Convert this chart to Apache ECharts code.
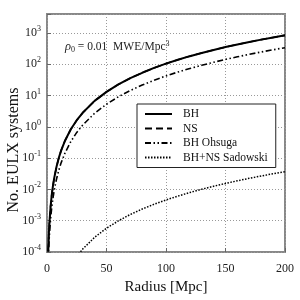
<!DOCTYPE html>
<html><head><meta charset="utf-8">
<script src="https://cdn.jsdelivr.net/npm/echarts@6/dist/echarts.min.js"></script>
<style>html,body{margin:0;padding:0;background:#fff}#c{width:300px;height:300px}</style>
</head><body><div id="c"></div>
<script>
const seriesNames = ['BH', 'NS', 'BH Ohsuga', 'BH+NS Sadowski'];
const radiusBH = [1, 1.5, 2, 3, 4, 5, 6, 8, 10, 12, 15, 20, 25, 30, 40, 50, 60, 70, 80, 90, 100, 110, 120, 130, 140, 150, 160, 170, 180, 190, 200];
const valuesBH = [1.04e-4, 3.5e-4, 8.3e-4, 2.8e-3, 6.7e-3, 0.013, 0.0225, 0.053, 0.104, 0.18, 0.35, 0.83, 1.62, 2.8, 6.7, 13.0, 22.5, 35.7, 53, 76, 104, 138, 180, 228, 285, 351, 426, 511, 607, 713, 832];
const radiusNS = [1, 1.5, 2, 3, 4, 5, 6, 8, 10, 12, 15, 20, 25, 30, 40, 50, 60, 70, 80, 90, 100, 110, 120, 130, 140, 150, 160, 170, 180, 190, 200];
const valuesNS = [1.04e-4, 3.5e-4, 8.3e-4, 2.8e-3, 6.7e-3, 0.013, 0.0225, 0.053, 0.104, 0.18, 0.35, 0.83, 1.62, 2.8, 6.7, 13.0, 22.5, 35.7, 53, 76, 104, 138, 180, 228, 285, 351, 426, 511, 607, 713, 832];
const valuesOhsuga = [4.2e-5, 1.42e-4, 3.4e-4, 1.13e-3, 2.7e-3, 5.2e-3, 9.1e-3, 0.0215, 0.042, 0.073, 0.142, 0.336, 0.66, 1.13, 2.7, 5.25, 9.1, 14.4, 21.5, 30.6, 42, 56, 72.6, 92, 115, 142, 172, 206, 245, 288, 336];
const radiusSad = [25, 30, 40, 50, 60, 70, 80, 90, 100, 110, 120, 130, 140, 150, 160, 170, 180, 190, 200];
const valuesSad = [7.2e-5, 1.24e-4, 2.94e-4, 5.75e-4, 9.9e-4, 1.58e-3, 2.36e-3, 3.35e-3, 4.6e-3, 6.1e-3, 7.95e-3, 0.0101, 0.0126, 0.0155, 0.0188, 0.0226, 0.0268, 0.0316, 0.0368];
const xTicks = [0, 50, 100, 150, 200];
const yTickExponents = [-4, -3, -2, -1, 0, 1, 2, 3];

const FONT = 'Liberation Serif';
const pairs = (xs, ys) => xs.map((x, i) => [x, ys[i]]);

const chart = echarts.init(document.getElementById('c'), null, {renderer: 'canvas'});
const lineBase = {type: 'line', showSymbol: false, symbol: 'none', smooth: false, clip: true};
chart.setOption({
  animation: false,
  backgroundColor: '#fff',
  grid: {left: 47, right: 15, top: 14, bottom: 36, show: true, borderColor: '#888', borderWidth: 2, backgroundColor: 'transparent'},
  xAxis: {
    type: 'value', min: 0, max: 200, interval: 50,
    axisLine: {show: false},
    axisTick: {show: true, inside: true, length: 4, lineStyle: {color: '#666'}},
    splitLine: {show: true, lineStyle: {color: '#999', type: [1, 2], width: 1}},
    axisLabel: {fontFamily: FONT, fontSize: 12, color: '#222', margin: 11,
      formatter: v => xTicks.includes(v) ? String(v) : ''},
    name: 'Radius [Mpc]', nameLocation: 'middle', nameGap: 28,
    nameTextStyle: {fontFamily: FONT, fontSize: 15, color: '#111'}
  },
  yAxis: {
    type: 'log', min: 1e-4, max: 4000, logBase: 10,
    axisLine: {show: false},
    axisTick: {show: true, inside: true, length: 4, lineStyle: {color: '#666'}},
    splitLine: {show: true, lineStyle: {color: '#999', type: [1, 2], width: 1}},
    axisLabel: {fontFamily: FONT, fontSize: 12, color: '#222', margin: 6,
      formatter: v => {
        const e = Math.round(Math.log10(v));
        if (Math.abs(Math.log10(v) - e) > 1e-6 || !yTickExponents.includes(e)) return '';
        return '10{s|' + String(e) + '}';
      },
      rich: {s: {fontFamily: FONT, fontSize: 8, color: '#222', padding: [0, 0, 8, 0]}}
    }
  },
  legend: {
    orient: 'vertical', left: 137, top: 104,
    padding: [4, 8, 4, 7], itemGap: 2.5, itemWidth: 27, itemHeight: 12,
    itemStyle: {color: 'transparent', borderWidth: 0, opacity: 0},
    backgroundColor: '#fff', borderColor: '#222', borderWidth: 1, borderRadius: 0,
    textStyle: {fontFamily: FONT, fontSize: 11.5, color: '#111', padding: [0, 0, 0, 6]},
    data: seriesNames, z: 10
  },
  graphic: [
    {type: 'text', x: 14, y: 150, rotation: Math.PI / 2, style: {
      text: 'No. EULX systems', fontFamily: FONT, fontSize: 16, fill: '#111', align: 'center', verticalAlign: 'middle'}},
    {type: 'text', x: 65, y: 47, style: {
      text: '{i|ρ}{sb|0} = 0.01  MWE/Mpc{sp|3}', fontFamily: FONT, fontSize: 11.5, fill: '#222', verticalAlign: 'middle',
      rich: {i: {fontFamily: FONT, fontStyle: 'italic', fontSize: 12.5, fill: '#222'},
             sb: {fontFamily: FONT, fontSize: 8, padding: [5, 0, 0, 0], fill: '#222'},
             sp: {fontFamily: FONT, fontSize: 8, padding: [0, 0, 7, 0], fill: '#222'}}
    }}
  ],
  series: [
    Object.assign({}, lineBase, {name: seriesNames[1], data: pairs(radiusNS, valuesNS), z: 2, lineStyle: {color: '#000', width: 1.6, type: [7, 4]}, itemStyle: {color: '#000'}}),
    Object.assign({}, lineBase, {name: seriesNames[0], data: pairs(radiusBH, valuesBH), z: 3, lineStyle: {color: '#000', width: 2, type: 'solid'}, itemStyle: {color: '#000'}}),
    Object.assign({}, lineBase, {name: seriesNames[2], data: pairs(radiusNS, valuesOhsuga), z: 3, lineStyle: {color: '#000', width: 1.6, type: [6, 2.5, 1.5, 2.5, 1.5, 2.5]}, itemStyle: {color: '#000'}}),
    Object.assign({}, lineBase, {name: seriesNames[3], data: pairs(radiusSad, valuesSad), z: 3, lineStyle: {color: '#000', width: 1.5, type: [1.5, 1.5]}, itemStyle: {color: '#000'}})
  ]
});
</script></body></html>
